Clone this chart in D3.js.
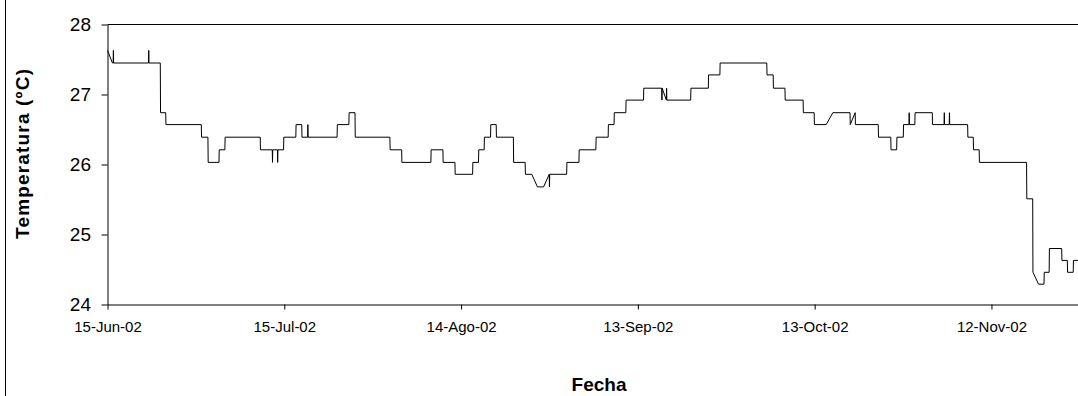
<!DOCTYPE html>
<html>
<head>
<meta charset="utf-8">
<script src="https://cdn.jsdelivr.net/npm/d3@7"></script>
<style>
  body { margin: 0; background: #fff; }
  svg { display: block; }
  text { font-family: "Liberation Sans", Arial, sans-serif; fill: #000; }
</style>
</head>
<body>
<svg id="chart" width="1078" height="396"></svg>
<script>
// Hourly logger readings at each change of level (°C); the logger resolution makes the trace step-like.
const readingTimes = [
  "2002-06-15 00:00", "2002-06-15 20:00", "2002-06-15 23:00", "2002-06-16 00:00", "2002-06-16 01:00",
  "2002-06-21 23:00", "2002-06-22 00:00", "2002-06-22 01:00", "2002-06-23 23:00", "2002-06-24 00:00",
  "2002-06-24 21:00", "2002-06-24 22:00", "2002-06-30 22:00", "2002-06-30 23:00", "2002-07-02 01:00",
  "2002-07-02 02:00", "2002-07-03 22:00", "2002-07-03 23:00", "2002-07-04 22:00", "2002-07-04 23:00",
  "2002-07-10 22:00", "2002-07-10 23:00", "2002-07-12 23:00", "2002-07-13 00:00", "2002-07-13 01:00",
  "2002-07-13 20:00", "2002-07-13 21:00", "2002-07-13 22:00", "2002-07-14 21:00", "2002-07-14 22:00",
  "2002-07-16 23:00", "2002-07-17 00:00", "2002-07-17 23:00", "2002-07-18 00:00", "2002-07-18 23:00",
  "2002-07-19 00:00", "2002-07-19 01:00", "2002-07-23 23:00", "2002-07-24 00:00", "2002-07-25 23:00",
  "2002-07-26 00:00", "2002-07-27 00:00", "2002-07-27 01:00", "2002-08-01 22:00", "2002-08-01 23:00",
  "2002-08-03 22:00", "2002-08-03 23:00", "2002-08-08 21:00", "2002-08-08 22:00", "2002-08-10 22:00",
  "2002-08-10 23:00", "2002-08-12 23:00", "2002-08-13 00:00", "2002-08-15 23:00", "2002-08-16 00:00",
  "2002-08-16 23:00", "2002-08-17 00:00", "2002-08-17 22:00", "2002-08-17 23:00", "2002-08-19 00:00",
  "2002-08-19 01:00", "2002-08-19 23:00", "2002-08-20 00:00", "2002-08-22 21:00", "2002-08-22 22:00",
  "2002-08-24 21:00", "2002-08-24 22:00", "2002-08-26 00:00", "2002-08-26 23:00", "2002-08-28 00:00",
  "2002-08-28 23:00", "2002-08-29 00:00", "2002-08-29 01:00", "2002-08-31 22:00", "2002-08-31 23:00",
  "2002-09-03 00:00", "2002-09-03 01:00", "2002-09-05 21:00", "2002-09-05 22:00", "2002-09-07 23:00",
  "2002-09-08 00:00", "2002-09-08 23:00", "2002-09-09 00:00", "2002-09-10 23:00", "2002-09-11 00:00",
  "2002-09-13 23:00", "2002-09-14 00:00", "2002-09-17 01:00", "2002-09-17 02:00", "2002-09-17 03:00",
  "2002-09-17 20:00", "2002-09-17 21:00", "2002-09-17 22:00", "2002-09-21 23:00", "2002-09-22 00:00",
  "2002-09-24 23:00", "2002-09-25 00:00", "2002-09-26 22:00", "2002-09-26 23:00", "2002-10-04 21:00",
  "2002-10-04 22:00", "2002-10-05 23:00", "2002-10-06 00:00", "2002-10-07 23:00", "2002-10-08 00:00",
  "2002-10-11 01:00", "2002-10-11 02:00", "2002-10-12 22:00", "2002-10-12 23:00", "2002-10-14 23:00",
  "2002-10-16 02:00", "2002-10-19 00:00", "2002-10-19 01:00", "2002-10-19 21:00", "2002-10-19 22:00",
  "2002-10-23 19:00", "2002-10-23 20:00", "2002-10-25 22:00", "2002-10-25 23:00", "2002-10-26 22:00",
  "2002-10-26 23:00", "2002-10-28 01:00", "2002-10-28 02:00", "2002-10-29 00:00", "2002-10-29 01:00",
  "2002-10-29 02:00", "2002-10-30 00:00", "2002-10-30 01:00", "2002-11-01 23:00", "2002-11-02 00:00",
  "2002-11-03 23:00", "2002-11-04 00:00", "2002-11-04 01:00", "2002-11-04 20:00", "2002-11-04 21:00",
  "2002-11-04 22:00", "2002-11-07 23:00", "2002-11-08 00:00", "2002-11-08 22:00", "2002-11-08 23:00",
  "2002-11-09 22:00", "2002-11-09 23:00", "2002-11-17 23:00", "2002-11-18 00:00", "2002-11-19 00:00",
  "2002-11-19 01:00", "2002-11-20 00:00", "2002-11-20 22:00", "2002-11-20 23:00", "2002-11-21 19:00",
  "2002-11-21 20:00", "2002-11-23 22:00", "2002-11-23 23:00", "2002-11-24 21:00", "2002-11-24 22:00",
  "2002-11-25 21:00", "2002-11-25 22:00", "2002-11-26 18:00"
];

const readingTemps = [
  27.63, 27.45, 27.45, 27.63, 27.45,
  27.45, 27.63, 27.45, 27.45, 26.74,
  26.74, 26.57, 26.57, 26.39, 26.39,
  26.03, 26.03, 26.21, 26.21, 26.39,
  26.39, 26.21, 26.21, 26.03, 26.21,
  26.21, 26.03, 26.21, 26.21, 26.39,
  26.39, 26.57, 26.57, 26.39, 26.39,
  26.57, 26.39, 26.39, 26.57, 26.57,
  26.74, 26.74, 26.39, 26.39, 26.21,
  26.21, 26.03, 26.03, 26.21, 26.21,
  26.03, 26.03, 25.86, 25.86, 26.03,
  26.03, 26.21, 26.21, 26.39, 26.39,
  26.57, 26.57, 26.39, 26.39, 26.03,
  26.03, 25.86, 25.86, 25.68, 25.68,
  25.86, 25.68, 25.86, 25.86, 26.03,
  26.03, 26.21, 26.21, 26.39, 26.39,
  26.57, 26.57, 26.74, 26.74, 26.92,
  26.92, 27.09, 27.09, 26.92, 27.09,
  26.92, 27.09, 26.92, 26.92, 27.09,
  27.09, 27.28, 27.28, 27.45, 27.45,
  27.28, 27.28, 27.09, 27.09, 26.92,
  26.92, 26.74, 26.74, 26.57, 26.57,
  26.74, 26.74, 26.57, 26.74, 26.57,
  26.57, 26.39, 26.39, 26.21, 26.21,
  26.39, 26.39, 26.57, 26.57, 26.74,
  26.57, 26.57, 26.74, 26.74, 26.57,
  26.57, 26.74, 26.57, 26.57, 26.74,
  26.57, 26.57, 26.39, 26.39, 26.21,
  26.21, 26.03, 26.03, 25.51, 25.51,
  24.46, 24.29, 24.29, 24.46, 24.46,
  24.80, 24.80, 24.63, 24.63, 24.46,
  24.46, 24.63, 24.63
];

const axisStart = "2002-06-15 00:00";
const axisEnd = "2002-11-27 00:00";
const tickDates = ["2002-06-15 00:00", "2002-07-15 00:00", "2002-08-14 00:00",
                   "2002-09-13 00:00", "2002-10-13 00:00", "2002-11-12 00:00"];
const tickLabels = ["15-Jun-02", "15-Jul-02", "14-Ago-02", "13-Sep-02", "13-Oct-02", "12-Nov-02"];
const tempTicks = [24, 25, 26, 27, 28];
const tempRange = [24, 28];

const parseTime = d3.utcParse("%Y-%m-%d %H:%M");
const readings = readingTimes.map((t, i) => ({ time: parseTime(t), temp: readingTemps[i] }));

const plot = { left: 107.5, top: 24.5, bottom: 304.5, right: 107.5 + 5.893 * 165 };

const svg = d3.select("#chart");

// Outer frame edge on the left of the chart area
svg.append("line")
  .attr("x1", 5.5).attr("x2", 5.5).attr("y1", 0).attr("y2", 396)
  .attr("stroke", "#000").attr("stroke-width", 1);

const x = d3.scaleUtc()
  .domain([parseTime(axisStart), parseTime(axisEnd)])
  .range([plot.left, plot.right]);

const y = d3.scaleLinear()
  .domain(tempRange)
  .range([plot.bottom, plot.top]);

// Top edge of the plot area
svg.append("line")
  .attr("x1", plot.left).attr("x2", plot.right)
  .attr("y1", y(tempRange[1])).attr("y2", y(tempRange[1]))
  .attr("stroke", "#000").attr("stroke-width", 1);

const xAxis = svg.append("g")
  .attr("transform", `translate(0,${plot.bottom})`)
  .call(d3.axisBottom(x)
    .tickValues(tickDates.map(parseTime))
    .tickFormat((d, i) => tickLabels[i])
    .tickSize(5)
    .tickSizeOuter(0)
    .tickPadding(12));
xAxis.selectAll("text").style("font-size", "15px").attr("fill", "#000");
xAxis.selectAll("line, path").attr("stroke", "#000");

const yAxis = svg.append("g")
  .attr("transform", `translate(${plot.left},0)`)
  .call(d3.axisLeft(y)
    .tickValues(tempTicks)
    .tickFormat(d3.format("d"))
    .tickSize(6)
    .tickSizeOuter(0)
    .tickPadding(10.5));
yAxis.selectAll("text").style("font-size", "19px").attr("fill", "#000");
yAxis.selectAll("line, path").attr("stroke", "#000");

// Temperature trace
const line = d3.line()
  .x(d => x(d.time))
  .y(d => y(d.temp));

svg.append("path")
  .datum(readings)
  .attr("d", line)
  .attr("fill", "none")
  .attr("stroke", "#000")
  .attr("stroke-width", 1);

// Axis titles
svg.append("text")
  .attr("transform", "translate(29,154) rotate(-90)")
  .attr("text-anchor", "middle")
  .attr("textLength", 170)
  .attr("lengthAdjust", "spacing")
  .style("font-size", "19px")
  .style("font-weight", "bold")
  .text("Temperatura (ºC)");

svg.append("text")
  .attr("x", 599)
  .attr("y", 391)
  .attr("text-anchor", "middle")
  .style("font-size", "19px")
  .style("font-weight", "bold")
  .text("Fecha");
</script>
</body>
</html>
